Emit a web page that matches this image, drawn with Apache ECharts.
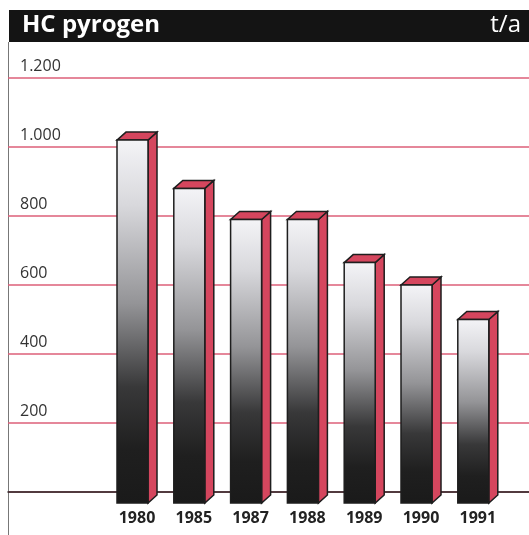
<!DOCTYPE html>
<html>
<head>
<meta charset="utf-8">
<script src="https://cdn.jsdelivr.net/npm/echarts@6/dist/echarts.min.js"></script>
<style>
  html, body { margin: 0; padding: 0; background: #fff; }
  #chart { width: 529px; height: 535px; }
</style>
</head>
<body>
<div id="chart"></div>
<script>
// Daten
const years = ['1980', '1985', '1987', '1988', '1989', '1990', '1991']
const values = [1020, 880, 790, 790, 665, 600, 500]
const yTicks = [0, 200, 400, 600, 800, 1000, 1200]

const red = '#d5465e'
const font = 'Open Sans'

// 1.200 statt 1,200
function fmt (v) {
  if (v === 0) return ''
  return String(v).replace(/\B(?=(\d{3})+(?!\d))/g, '.')
}

const chart = echarts.init(document.getElementById('chart'))

const option = {
  animation: false,
  title: [
    {
      text: 'HC pyrogen',
      left: 17,
      top: 8,
      textStyle: { color: '#fff', fontFamily: font, fontSize: 24, fontWeight: 'bold' }
    },
    {
      text: 't/a',
      right: 3,
      top: 8,
      textStyle: { color: '#fff', fontFamily: font, fontSize: 24, fontWeight: 'normal' }
    }
  ],
  graphic: [
    {
      type: 'rect',
      z: -1,
      shape: { x: 9, y: 10, width: 520, height: 32 },
      style: { fill: '#141414' }
    },
    {
      type: 'line',
      shape: { x1: 8.5, y1: 42, x2: 8.5, y2: 535 },
      style: { stroke: '#777', lineWidth: 1 }
    }
  ],
  grid: [
    { left: 8, right: 0, top: 78, bottom: 43 },
    { left: 108.6, right: 22.8, top: 78, bottom: 43 }
  ],
  xAxis: [
    {
      gridIndex: 0,
      type: 'value',
      min: 0,
      max: 1,
      axisLabel: { show: false },
      axisTick: { show: false },
      splitLine: { show: false },
      axisLine: { show: true, lineStyle: { color: '#222', width: 1.5 } }
    },
    {
      gridIndex: 1,
      type: 'category',
      data: years,
      axisLine: { show: false },
      axisTick: { show: false },
      axisLabel: {
        margin: 18,
        color: '#222',
        fontFamily: font,
        fontSize: 16,
        fontWeight: 'bold',
        lineHeight: 16
      }
    }
  ],
  yAxis: [
    {
      gridIndex: 0,
      type: 'value',
      min: yTicks[0],
      max: yTicks[yTicks.length - 1],
      interval: 200,
      axisLine: { show: false },
      axisTick: { show: false },
      splitLine: { show: true, lineStyle: { color: '#dc5f79', width: 1.5 } },
      axisLabel: {
        inside: true,
        margin: 12,
        verticalAlign: 'bottom',
        lineHeight: 16,
        padding: [0, 0, 4, 0],
        color: '#333',
        fontFamily: font,
        fontSize: 16,
        formatter: fmt
      }
    },
    {
      gridIndex: 1,
      type: 'value',
      min: 0,
      max: 1200,
      show: false
    }
  ],
  series: [
    {
      type: 'custom',
      xAxisIndex: 1,
      yAxisIndex: 1,
      z: 5,
      data: values.map((v, i) => [i, v]),
      renderItem (params, api) {
        const top = api.coord([api.value(0), api.value(1)])
        const base = api.coord([api.value(0), 0])
        const fw = 31 // Vorderseite
        const dep = 9 // Tiefe
        const dy = 8
        const drop = 11 // Balken ragen unter die Nulllinie
        const x0 = top[0] - (fw + dep) / 2
        const x1 = x0 + fw
        const yT = top[1]
        const yB = base[1] + drop
        const edge = '#1e1e1e'
        return {
          type: 'group',
          children: [
            {
              type: 'polygon',
              shape: { points: [[x1, yT], [x1 + dep, yT - dy], [x1 + dep, yB - dy], [x1, yB]] },
              style: { fill: red, stroke: edge, lineWidth: 1.5 }
            },
            {
              type: 'polygon',
              shape: { points: [[x0, yT], [x0 + dep, yT - dy], [x1 + dep, yT - dy], [x1, yT]] },
              style: { fill: red, stroke: edge, lineWidth: 1.5 }
            },
            {
              type: 'rect',
              shape: { x: x0, y: yT, width: fw, height: yB - yT },
              style: {
                fill: new echarts.graphic.LinearGradient(0, 0, 0, 1, [
                  { offset: 0, color: '#f4f4f7' },
                  { offset: 0.18, color: '#d8d8dc' },
                  { offset: 0.45, color: '#949497' },
                  { offset: 0.68, color: '#383839' },
                  { offset: 0.85, color: '#1f1f1f' },
                  { offset: 1, color: '#1a1a1a' }
                ]),
                stroke: edge,
                lineWidth: 1.5
              }
            }
          ]
        }
      }
    }
  ]
}

chart.setOption(option)
</script>
</body>
</html>
